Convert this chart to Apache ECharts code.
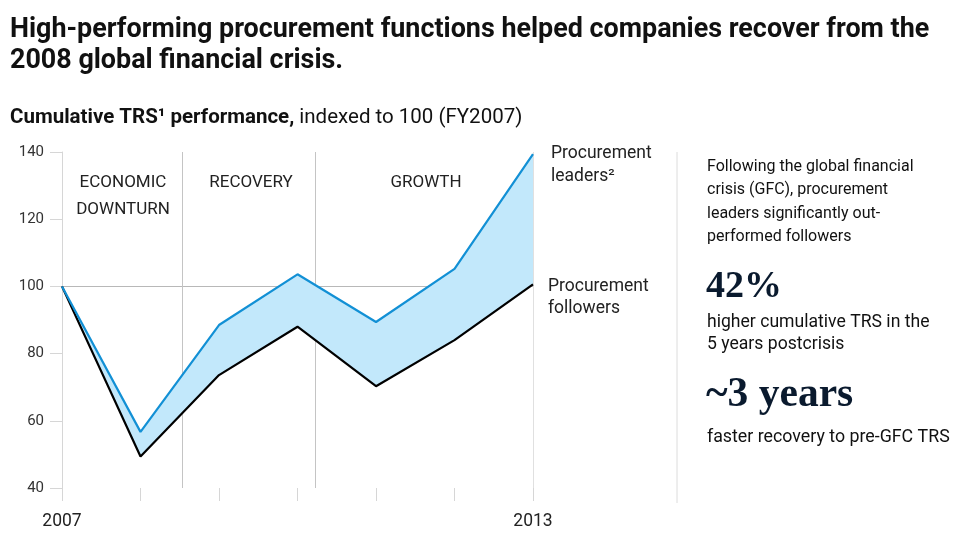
<!DOCTYPE html>
<html><head><meta charset="utf-8">
<script src="https://cdn.jsdelivr.net/npm/echarts@6/dist/echarts.min.js"></script>
<style>html,body{margin:0;padding:0;background:#fff}#c{width:970px;height:540px}</style>
</head><body><div id="c"></div>
<script>
const years = ['2007', '2008', '2009', '2010', '2011', '2012', '2013'];
const leaders = [100, 56.7, 88.5, 103.6, 89.4, 105.2, 139.4];
const followers = [100, 49.4, 73.6, 88, 70.3, 84, 100.6];
const yTicks = [40, 60, 80, 100, 120, 140];
const xLabels = ['2007', '2013'];
const phaseBounds = [1.53, 3.22]; // positions (in years after 2007) of phase dividers

const FONT = 'Roboto';
const chart = echarts.init(document.getElementById('c'), null, {renderer: 'canvas'});
const diff = leaders.map((v, i) => v - followers[i]);

chart.setOption({
  animation: false,
  grid: {left: 62, right: 437, top: 152, bottom: 52},
  xAxis: [{
    type: 'category', data: years, boundaryGap: false,
    axisLine: {show: false},
    axisTick: {show: true, length: 13, interval: 0, lineStyle: {color: '#d6d6d6', width: 1}},
    splitLine: {show: false},
    axisLabel: {
      margin: 25, interval: 0, fontFamily: FONT, fontSize: 17.5, color: '#222',
      formatter: v => xLabels.includes(v) ? v : ''
    }
  }, {
    type: 'value', min: 0, max: 6, show: false
  }],
  yAxis: {
    type: 'value', min: 40, max: 140, interval: 20,
    axisLine: {show: true, lineStyle: {color: '#d6d6d6', width: 1}},
    axisTick: {show: true, length: 12, lineStyle: {color: '#d6d6d6', width: 1}},
    splitLine: {show: false},
    axisLabel: {
      margin: 18, fontFamily: FONT, fontSize: 15, color: '#333',
      formatter: v => yTicks.includes(v) ? String(v) : ''
    }
  },
  series: [
    {
      type: 'line', stack: 'band', data: followers, symbol: 'none',
      lineStyle: {opacity: 0}, areaStyle: {opacity: 0}, silent: true, z: 1
    },
    {
      type: 'line', stack: 'band', data: diff, symbol: 'none',
      lineStyle: {opacity: 0}, areaStyle: {color: '#c2e8fb', opacity: 1}, silent: true, z: 1
    },
    {
      type: 'line', xAxisIndex: 1, data: [], symbol: 'none', silent: true, z: 0,
      markLine: {
        silent: true, symbol: 'none', label: {show: false}, z: 0,
        data: [
          {yAxis: 100, lineStyle: {color: '#b8b8b8', width: 1, type: 'solid'}},
          {xAxis: phaseBounds[0], lineStyle: {color: '#c4c4c4', width: 1, type: 'solid'}},
          {xAxis: phaseBounds[1], lineStyle: {color: '#c4c4c4', width: 1, type: 'solid'}},
          {xAxis: 6, lineStyle: {color: '#e0e0e0', width: 1, type: 'solid'}}
        ]
      }
    },
    {
      type: 'line', data: followers, symbol: 'none',
      lineStyle: {color: '#000', width: 2.2}, z: 3
    },
    {
      type: 'line', data: leaders, symbol: 'none',
      lineStyle: {color: '#1290d5', width: 2.2}, z: 4
    }
  ],
  graphic: [
    {type: 'text', x: 10, y: 30, style: {text: 'High-performing procurement functions helped companies recover from the', verticalAlign: 'middle', fontFamily: FONT, fontSize: 26.9, fontWeight: 'bold', fill: '#111'}},
    {type: 'text', x: 10, y: 61, style: {text: '2008 global financial crisis.', verticalAlign: 'middle', fontFamily: FONT, fontSize: 26.9, fontWeight: 'bold', fill: '#111'}},
    {type: 'text', x: 10, y: 118, style: {text: '{b|Cumulative TRS¹ performance,} indexed to 100 (FY2007)', verticalAlign: 'middle', fontFamily: FONT, fontSize: 20.5, fill: '#111', rich: {b: {fontFamily: FONT, fontSize: 20.5, fontWeight: 'bold', fill: '#111'}}}},
    {type: 'text', x: 123, y: 183, style: {text: 'ECONOMIC', align: 'center', verticalAlign: 'middle', fontFamily: FONT, fontSize: 17, fill: '#222'}},
    {type: 'text', x: 123, y: 210, style: {text: 'DOWNTURN', align: 'center', verticalAlign: 'middle', fontFamily: FONT, fontSize: 17, fill: '#222'}},
    {type: 'text', x: 251, y: 183, style: {text: 'RECOVERY', align: 'center', verticalAlign: 'middle', fontFamily: FONT, fontSize: 17, fill: '#222'}},
    {type: 'text', x: 426, y: 183, style: {text: 'GROWTH', align: 'center', verticalAlign: 'middle', fontFamily: FONT, fontSize: 17, fill: '#222'}},
    {type: 'text', x: 551, y: 154, style: {text: 'Procurement', verticalAlign: 'middle', fontFamily: FONT, fontSize: 17.5, fill: '#222'}},
    {type: 'text', x: 551, y: 177, style: {text: 'leaders²', verticalAlign: 'middle', fontFamily: FONT, fontSize: 17.5, fill: '#222'}},
    {type: 'text', x: 548, y: 287, style: {text: 'Procurement', verticalAlign: 'middle', fontFamily: FONT, fontSize: 17.5, fill: '#222'}},
    {type: 'text', x: 548, y: 309, style: {text: 'followers', verticalAlign: 'middle', fontFamily: FONT, fontSize: 17.5, fill: '#222'}},
    {type: 'line', shape: {x1: 677, y1: 152, x2: 677, y2: 503}, style: {stroke: '#dcdcdc', lineWidth: 1}},
    {type: 'text', x: 707, y: 167, style: {text: 'Following the global financial', verticalAlign: 'middle', fontFamily: FONT, fontSize: 16, fill: '#111'}},
    {type: 'text', x: 707, y: 190, style: {text: 'crisis (GFC), procurement', verticalAlign: 'middle', fontFamily: FONT, fontSize: 16, fill: '#111'}},
    {type: 'text', x: 707, y: 214, style: {text: 'leaders significantly out-', verticalAlign: 'middle', fontFamily: FONT, fontSize: 16, fill: '#111'}},
    {type: 'text', x: 707, y: 237, style: {text: 'performed followers', verticalAlign: 'middle', fontFamily: FONT, fontSize: 16, fill: '#111'}},
    {type: 'text', x: 706, y: 287, style: {text: '42%', verticalAlign: 'middle', fontFamily: 'Liberation Serif', fontSize: 38, fontWeight: 'bold', fill: '#0a1a2e'}},
    {type: 'text', x: 707, y: 323, style: {text: 'higher cumulative TRS in the', verticalAlign: 'middle', fontFamily: FONT, fontSize: 17.6, fill: '#111'}},
    {type: 'text', x: 707, y: 345, style: {text: '5 years postcrisis', verticalAlign: 'middle', fontFamily: FONT, fontSize: 17.6, fill: '#111'}},
    {type: 'text', x: 706, y: 395, style: {text: '~3 years', verticalAlign: 'middle', fontFamily: 'Liberation Serif', fontSize: 41.5, fontWeight: 'bold', fill: '#0a1a2e'}},
    {type: 'text', x: 707, y: 438, style: {text: 'faster recovery to pre-GFC TRS', verticalAlign: 'middle', fontFamily: FONT, fontSize: 17.8, fill: '#111'}}
  ]
});
</script></body></html>
